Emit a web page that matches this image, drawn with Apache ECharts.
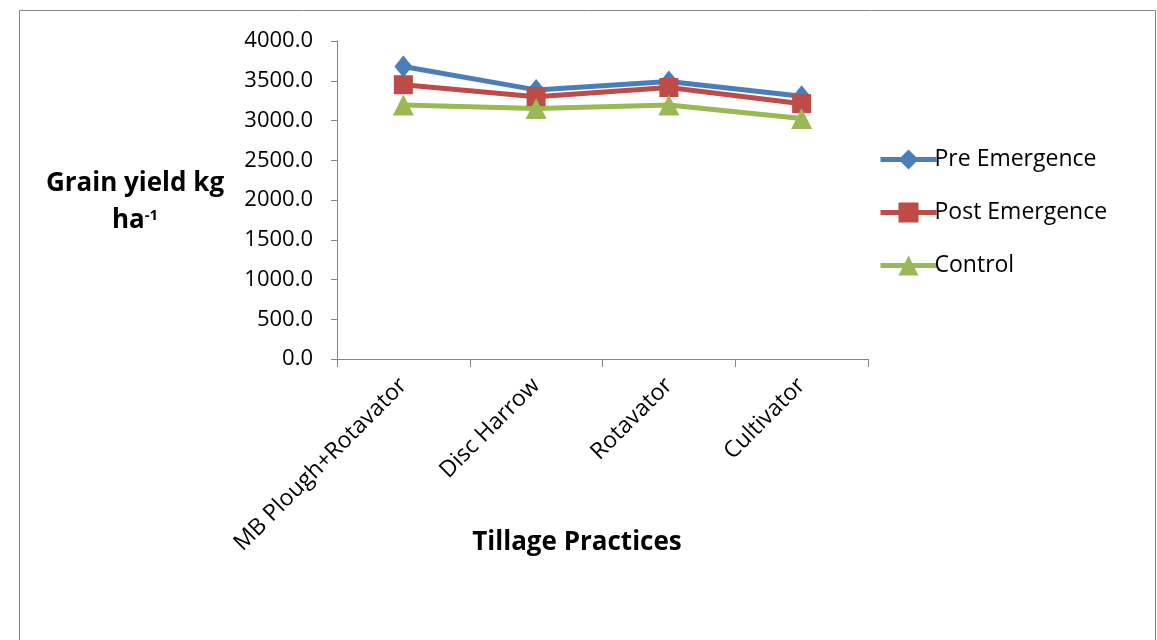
<!DOCTYPE html>
<html>
<head>
<meta charset="utf-8">
<script src="https://cdn.jsdelivr.net/npm/echarts@6/dist/echarts.min.js"></script>
<style>html,body{margin:0;padding:0;background:#fff}#c{width:1157px;height:640px}</style>
</head>
<body>
<div id="c"></div>
<script>
const categories = ['MB Plough+Rotavator', 'Disc Harrow', 'Rotavator', 'Cultivator'];
const preEmergence = [3680, 3385, 3490, 3305];
const postEmergence = [3450, 3300, 3415, 3212];
const control = [3195, 3152, 3195, 3025];
const yTicks = { min: 0, max: 4000, interval: 500 };

const chart = echarts.init(document.getElementById('c'));
const font = '"Open Sans", sans-serif';
const mk = (name, data, color, symbol, size) => ({
  name, type: 'line', data, symbol, symbolSize: size,
  lineStyle: { width: 5, color }, itemStyle: { color }, z: 3
});
chart.setOption({
  animation: false,
  textStyle: { fontFamily: font },
  grid: { left: 337, right: 289, top: 41, bottom: 281 },
  legend: {
    orient: 'vertical', left: 873, top: 143, itemWidth: 56, itemHeight: 25, itemGap: 30,
    lineStyle: { width: 5 },
    textStyle: { fontSize: 23, color: '#000', fontFamily: font, padding: [0, 0, 0, -7] },
    data: ['Pre Emergence', 'Post Emergence', 'Control']
  },
  xAxis: {
    type: 'category', data: categories, boundaryGap: true,
    axisLine: { lineStyle: { color: '#868686', width: 1 } },
    axisTick: { show: true, length: 8, lineStyle: { color: '#868686' } },
    axisLabel: { rotate: 45, fontSize: 23, color: '#000', margin: 23, fontFamily: font, interval: 0 }
  },
  yAxis: {
    type: 'value', min: yTicks.min, max: yTicks.max, interval: yTicks.interval,
    axisLine: { show: true, lineStyle: { color: '#868686', width: 1 } },
    axisTick: { show: true, length: 6, lineStyle: { color: '#868686' } },
    splitLine: { show: false },
    axisLabel: { fontSize: 22, color: '#000', margin: 24, fontFamily: font, formatter: v => v.toFixed(1) }
  },
  series: [
    mk('Pre Emergence', preEmergence, '#4A7EBB', 'diamond', [18, 22]),
    mk('Post Emergence', postEmergence, '#BE4B48', 'rect', 19),
    mk('Control', control, '#98B954', 'triangle', 21)
  ],
  graphic: [
    { type: 'rect', shape: { x: 19.5, y: 10.5, width: 1136, height: 640 }, style: { fill: 'none', stroke: '#868686', lineWidth: 1 }, silent: true },
    { type: 'text', x: 135, y: 184, style: { text: 'Grain yield kg', font: 'bold 26px ' + font, fill: '#000', align: 'center', verticalAlign: 'middle' } },
    { type: 'text', x: 135, y: 221, style: { rich: { a: { font: 'bold 26px ' + font, fill: '#000' }, s: { font: 'bold 15px ' + font, fill: '#000', verticalAlign: 'top', padding: [0, 0, 11, 0] } }, text: '{a|ha}{s|-1}', align: 'center', verticalAlign: 'middle' } },
    { type: 'text', x: 577, y: 543, style: { text: 'Tillage Practices', font: 'bold 26px ' + font, fill: '#000', align: 'center', verticalAlign: 'middle' } }
  ]
});
</script>
</body>
</html>
